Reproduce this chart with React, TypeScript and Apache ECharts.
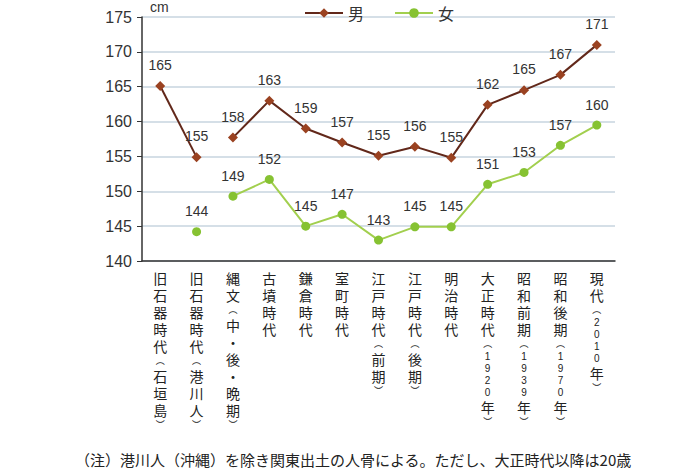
import React, { useEffect, useRef } from "react";
import * as echarts from "echarts";

const categories = [
  "旧石器時代︵石垣島︶",
  "旧石器時代︵港川人︶",
  "縄文︵中・後・晩期︶",
  "古墳時代",
  "鎌倉時代",
  "室町時代",
  "江戸時代︵前期︶",
  "江戸時代︵後期︶",
  "明治時代",
  "大正時代︵1920年︶",
  "昭和前期︵1939年︶",
  "昭和後期︵1970年︶",
  "現代︵2010年︶",
];

const male: (number | null)[] = [165.1, 154.9, 157.7, 163.0, 159.0, 157.0, 155.1, 156.4, 154.8, 162.4, 164.5, 166.7, 171.0];
const female: (number | null)[] = [null, 144.2, 149.3, 151.7, 145.0, 146.7, 143.0, 144.9, 144.9, 151.0, 152.7, 156.6, 159.5];

const yTicks = [140, 145, 150, 155, 160, 165, 170, 175];
const unitLabel = "cm";
const note = "（注）港川人（沖縄）を除き関東出土の人骨による。ただし、大正時代以降は20歳";

const FONT = "'Noto Sans CJK JP', 'Noto Sans', sans-serif";
const NUMFONT = "'Liberation Sans', 'Noto Sans CJK JP', sans-serif";

export default function App() {
  const ref = useRef<HTMLDivElement>(null);
  useEffect(() => {
    if (!ref.current) return;
    const chart = echarts.init(ref.current, null, { renderer: "svg" });
    const maleColor = "#9a4221";
    const maleLine = "#62281a";
    const femaleColor = "#86c232";
    const femaleLine = "#a2cf4e";
    const label = {
      show: true,
      position: "top" as const,
      distance: 9,
      fontSize: 14,
      color: "#333",
      fontFamily: NUMFONT,
      formatter: (p: any) => String(Math.round(p.value)),
    };
    const seg = (arr: (number | null)[], from: number, to: number) =>
      arr.map((v, i) => (i >= from && i <= to ? v : null));
    const mk = (name: string, data: (number | null)[], sym: string, c: string, lc: string) => ({
      name,
      type: "line",
      data,
      symbol: sym,
      symbolSize: sym === "diamond" ? 10 : 9,
      showSymbol: true,
      connectNulls: false,
      itemStyle: { color: c },
      lineStyle: { color: lc, width: 2 },
      label,
    });
    const charTag = (c: string) => {
      if (c === "︵" || c === "︶") return `{p|${c}}`;
      if (/[0-9]/.test(c)) return `{d|${c}}`;
      return `{n|${c}}`;
    };
    chart.setOption({
      animation: false,
      textStyle: { fontFamily: FONT },
      legend: {
        data: ["男", "女"],
        top: 0,
        left: 299,
        itemWidth: 38,
        itemHeight: 12,
        itemGap: 30,
        textStyle: { fontSize: 16, color: "#333", fontFamily: FONT },
      },
      grid: { left: 142, right: 85, top: 17, bottom: 209, containLabel: false },
      xAxis: {
        type: "category",
        data: categories,
        boundaryGap: true,
        axisLine: { lineStyle: { color: "#333", width: 1.5 } },
        axisTick: { inside: true, length: 5, lineStyle: { color: "#333" } },
        axisLabel: {
          interval: 0,
          margin: 8,
          fontSize: 14,
          color: "#222",
          fontFamily: FONT,
          verticalAlign: "top",
          formatter: (v: string) => Array.from(v).map(charTag).join("\n"),
          rich: {
            n: { fontSize: 14, lineHeight: 17, color: "#222", fontFamily: FONT },
            p: { fontSize: 9, lineHeight: 13, color: "#222", fontFamily: FONT },
            d: { fontSize: 10, lineHeight: 12, color: "#222", fontFamily: NUMFONT },
          },
        },
      },
      yAxis: {
        type: "value",
        min: yTicks[0],
        max: yTicks[yTicks.length - 1],
        interval: 5,
        axisLine: { show: true, lineStyle: { color: "#333", width: 1.5 } },
        axisTick: { show: true, inside: false, length: 5, lineStyle: { color: "#333" } },
        axisLabel: { fontSize: 16, color: "#333", margin: 10, fontFamily: NUMFONT },
        splitLine: { lineStyle: { color: "#c7d5df", width: 1.5 } },
      },
      graphic: [
        { type: "text", left: 150, top: 0, style: { text: unitLabel, fontSize: 14, fill: "#333", fontFamily: NUMFONT } },
        { type: "text", left: 75, top: 452, style: { text: note, fontSize: 15, fill: "#222", fontFamily: FONT } },
      ],
      series: [
        mk("男", seg(male, 0, 1), "diamond", maleColor, maleLine),
        mk("男", seg(male, 2, 12), "diamond", maleColor, maleLine),
        mk("女", seg(female, 0, 1), "circle", femaleColor, femaleLine),
        mk("女", seg(female, 2, 12), "circle", femaleColor, femaleLine),
      ],
    });
    return () => chart.dispose();
  }, []);
  return <div ref={ref} style={{ width: 700, height: 470, position: "absolute", left: 0, top: 0 }} />;
}
